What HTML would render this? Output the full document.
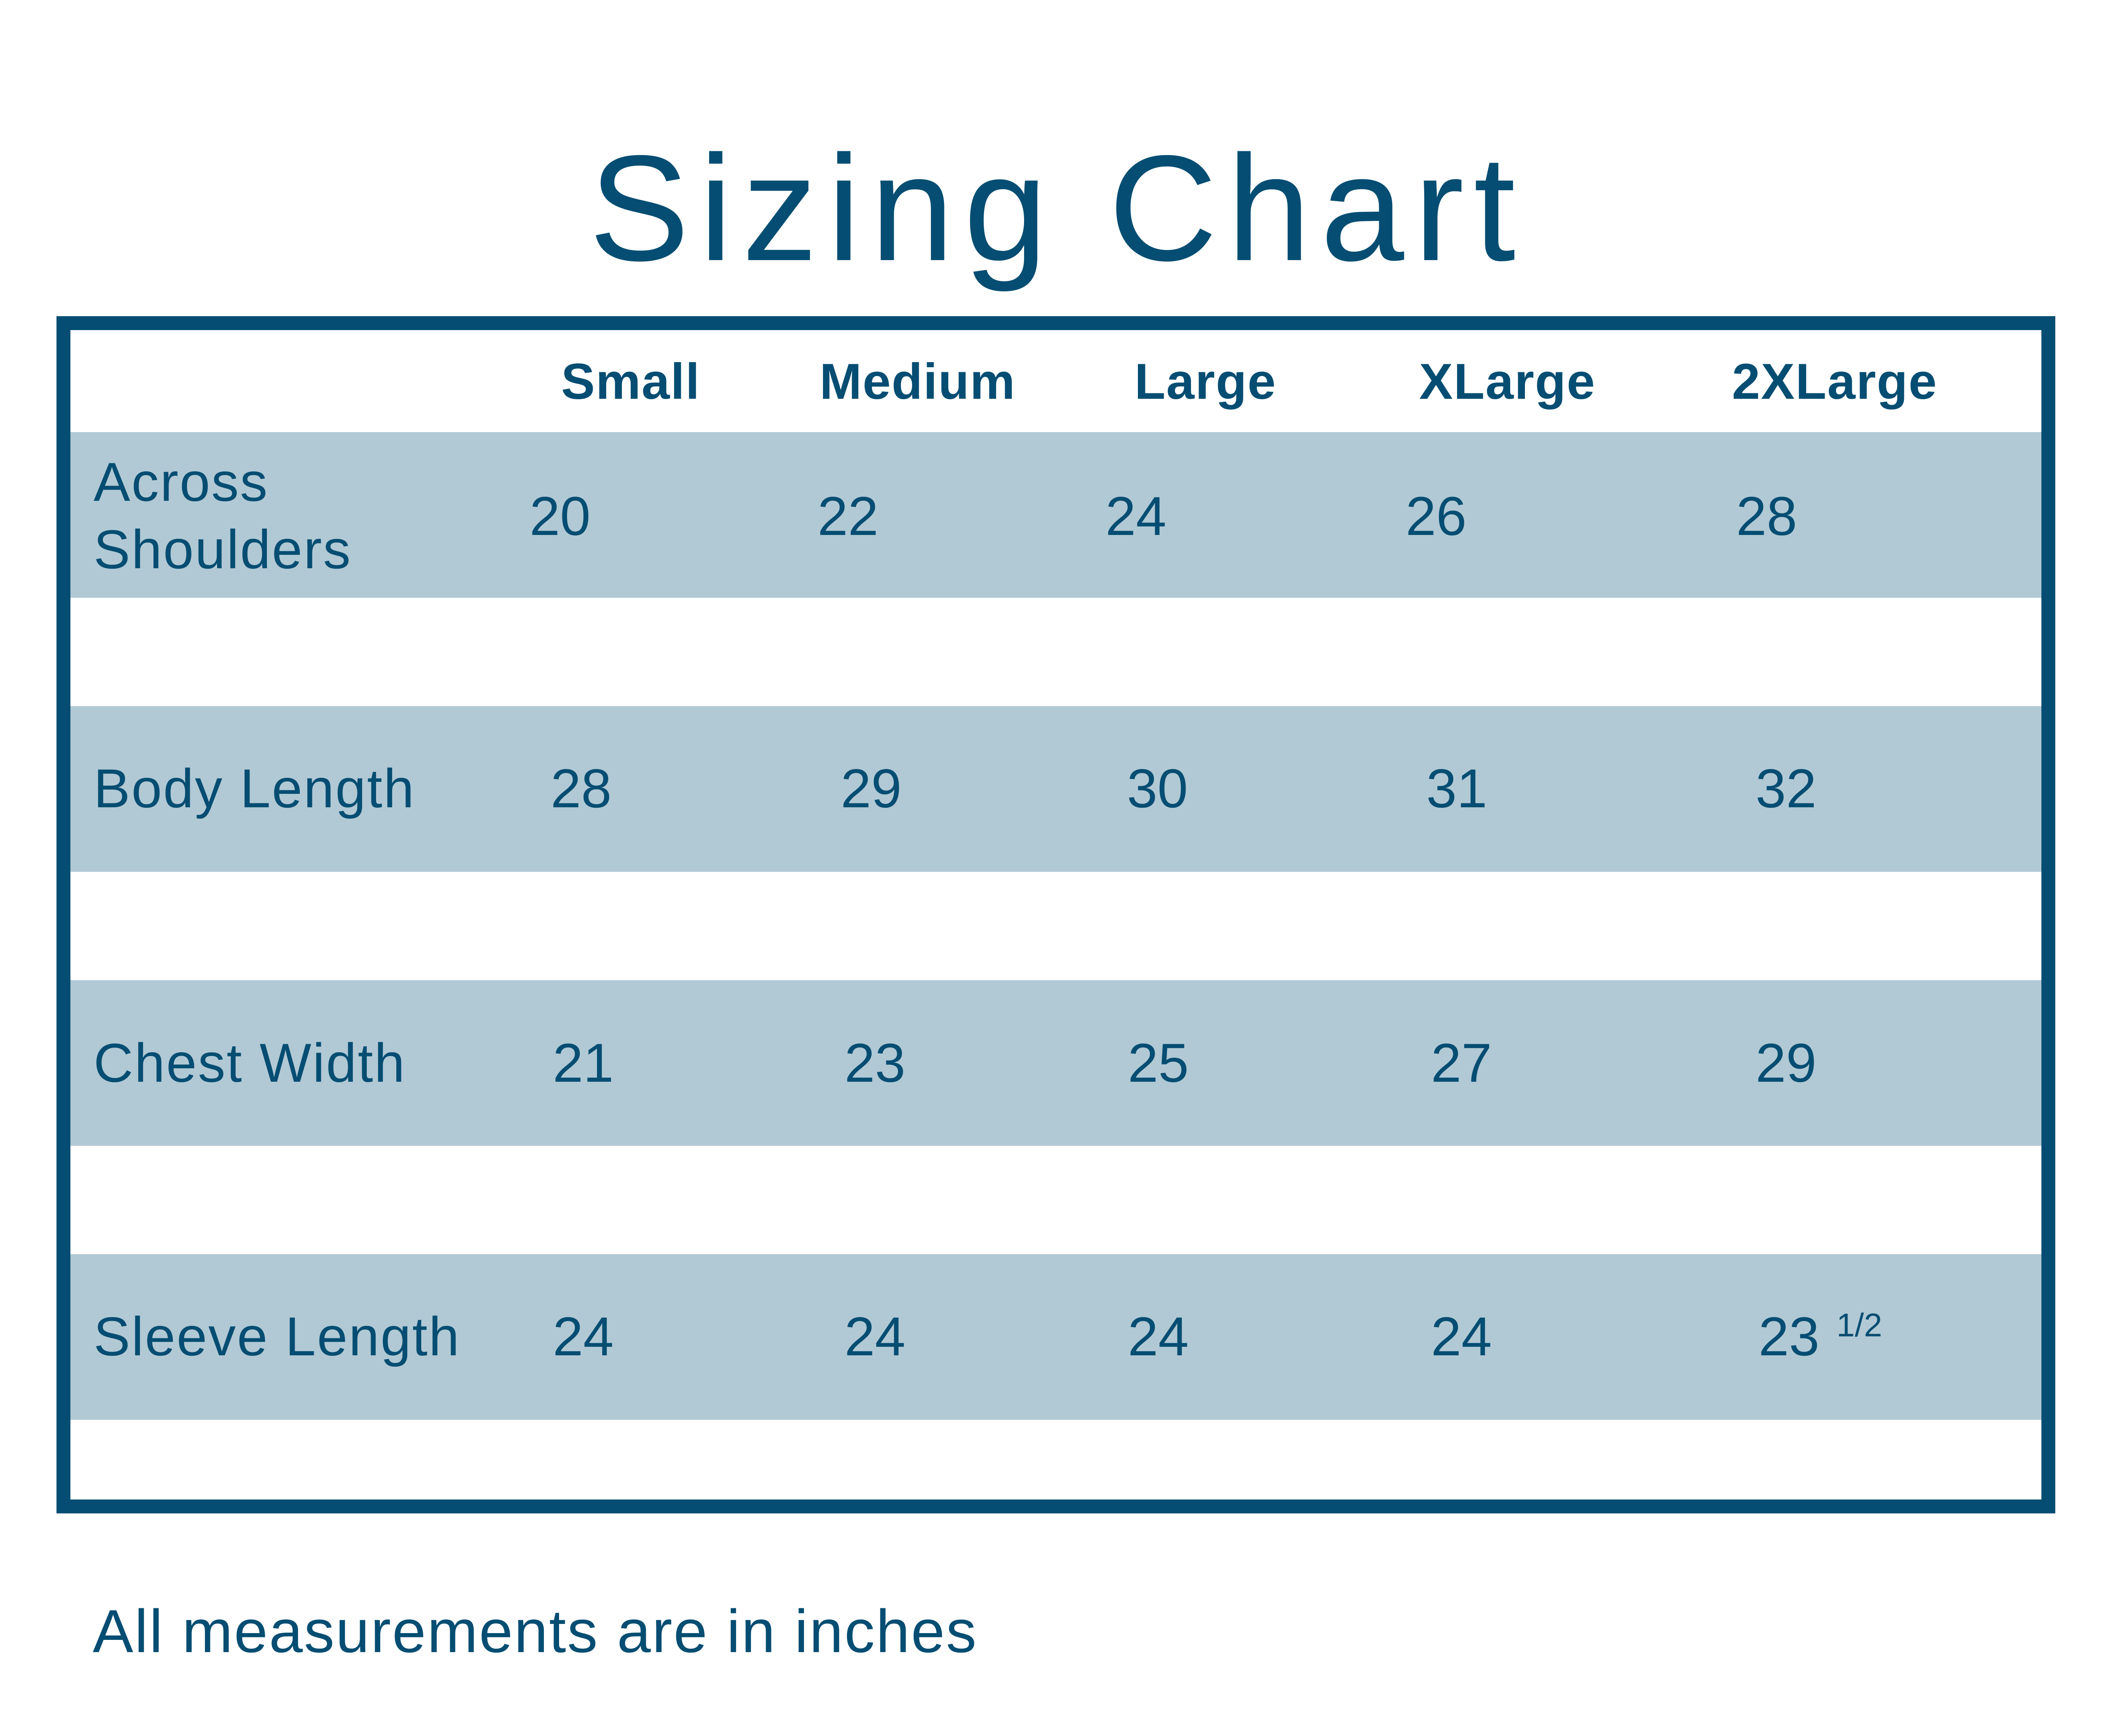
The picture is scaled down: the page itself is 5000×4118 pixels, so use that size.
<!DOCTYPE html>
<html>
<head>
<meta charset="utf-8">
<style>
  html, body { margin:0; padding:0; }
  body { width:5000px; height:4118px; background:#ffffff; position:relative; overflow:hidden;
         font-family:"Liberation Sans", Arial, sans-serif; color:#054d72; }
  .t { position:absolute; white-space:nowrap; line-height:1; }
  .title { font-size:357px; letter-spacing:23px; left:1397px; top:315px; }
  .frame { position:absolute; left:134px; top:750px; width:4675px; height:2774px;
           border:33px solid #054d72; background:#ffffff; }
  .band { position:absolute; left:167px; width:4675px; height:393px; background:#b1c9d5; }
  .hd { font-size:120px; font-weight:bold; top:845px; letter-spacing:2px; }
  .lb { font-size:130px; letter-spacing:3px; left:222px; }
  .n { font-size:130px; }
  .frac { font-size:78px; }
  .foot { font-size:144px; letter-spacing:3px; left:220px; top:3798px; }
</style>
</head>
<body>
  <div class="t title">Sizing Chart</div>

  <div class="frame"></div>
  <div class="band" style="top:1025px"></div>
  <div class="band" style="top:1675px"></div>
  <div class="band" style="top:2325px"></div>
  <div class="band" style="top:2975px"></div>

  <!-- header -->
  <div class="t hd" style="left:1331px">Small</div>
  <div class="t hd" style="left:1944px">Medium</div>
  <div class="t hd" style="left:2691px">Large</div>
  <div class="t hd" style="left:3366px">XLarge</div>
  <div class="t hd" style="left:4108px">2XLarge</div>

  <!-- row 1 -->
  <div class="t lb" style="top:1078px">Across</div>
  <div class="t lb" style="top:1238px">Shoulders</div>
  <div class="t n" style="left:1256px; top:1159px">20</div>
  <div class="t n" style="left:1939px; top:1159px">22</div>
  <div class="t n" style="left:2622px; top:1159px">24</div>
  <div class="t n" style="left:3334px; top:1159px">26</div>
  <div class="t n" style="left:4118px; top:1159px">28</div>

  <!-- row 2 -->
  <div class="t lb" style="top:1805px">Body Length</div>
  <div class="t n" style="left:1306px; top:1805px">28</div>
  <div class="t n" style="left:1994px; top:1805px">29</div>
  <div class="t n" style="left:2673px; top:1805px">30</div>
  <div class="t n" style="left:3383px; top:1805px">31</div>
  <div class="t n" style="left:4164px; top:1805px">32</div>

  <!-- row 3 -->
  <div class="t lb" style="top:2456px">Chest Width</div>
  <div class="t n" style="left:1311px; top:2456px">21</div>
  <div class="t n" style="left:2003px; top:2456px">23</div>
  <div class="t n" style="left:2675px; top:2456px">25</div>
  <div class="t n" style="left:3394px; top:2456px">27</div>
  <div class="t n" style="left:4164px; top:2456px">29</div>

  <!-- row 4 -->
  <div class="t lb" style="top:3105px">Sleeve Length</div>
  <div class="t n" style="left:1311px; top:3105px">24</div>
  <div class="t n" style="left:2003px; top:3105px">24</div>
  <div class="t n" style="left:2675px; top:3105px">24</div>
  <div class="t n" style="left:3394px; top:3105px">24</div>
  <div class="t n" style="left:4171px; top:3105px">23</div>
  <div class="t frac" style="left:4356px; top:3104px">1/2</div>

  <div class="t foot">All measurements are in inches</div>
</body>
</html>
